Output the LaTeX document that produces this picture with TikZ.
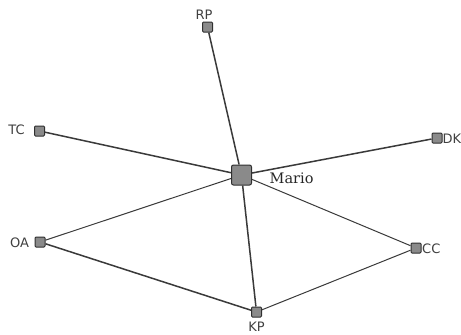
\documentclass[tikz,border=0pt]{standalone}
\usepackage{fontspec}
\setmainfont{DejaVu Sans}
\newfontfamily\marioserif{DejaVu Serif}
\definecolor{edgec}{HTML}{3A3A3A}
\definecolor{nodefill}{HTML}{8A8A8A}
\definecolor{nodedraw}{HTML}{303030}
\begin{document}
\begin{tikzpicture}[x=1pt,y=-1pt,
  sq/.style={draw=nodedraw,fill=nodefill,line width=1pt,rounded corners=1pt,minimum size=10pt,inner sep=0pt},
  bigsq/.style={sq,minimum size=20pt,rounded corners=2pt},
  lab/.style={font=\fontsize{13}{14}\selectfont,text=black!75,inner sep=0pt},
  thick edge/.style={draw=edgec,line width=1.5pt},
  thin edge/.style={draw=edgec,line width=1pt}]
\useasboundingbox[fill=white] (0,0) rectangle (461,335);
\node[bigsq] (M) at (241.5,175) {};
\node[sq] (RP) at (207.5,27) {};
\node[sq] (TC) at (39.5,131) {};
\node[sq] (DK) at (437,138) {};
\node[sq] (OA) at (40,242) {};
\node[sq] (CC) at (416,248) {};
\node[sq] (KP) at (256.5,312) {};
\draw[thick edge] (M) -- (RP);
\draw[thick edge] (M) -- (TC);
\draw[thick edge] (M) -- (DK);
\draw[thick edge] (M) -- (KP);
\draw[thick edge] (OA) -- (KP);
\draw[thin edge] (M) -- (OA);
\draw[thin edge] (M) -- (CC);
\draw[thin edge] (KP) -- (CC);
\node[lab] (lRP) at (204,14.5) {RP};
\node[lab] (lTC) at (16.5,129.5) {TC};
\node[lab,anchor=west] (lDK) at (442.5,138.5) {DK};
\node[lab] (lOA) at (19.5,243) {OA};
\node[lab,anchor=west] (lCC) at (422,248.5) {CC};
\node[lab] (lKP) at (256.5,326.5) {KP};
\node[font=\marioserif\fontsize{14.5}{15}\selectfont,anchor=base west,inner sep=0pt,text=black!85] (lM) at (269.5,183.5) {Mario};
\end{tikzpicture}
\end{document}
